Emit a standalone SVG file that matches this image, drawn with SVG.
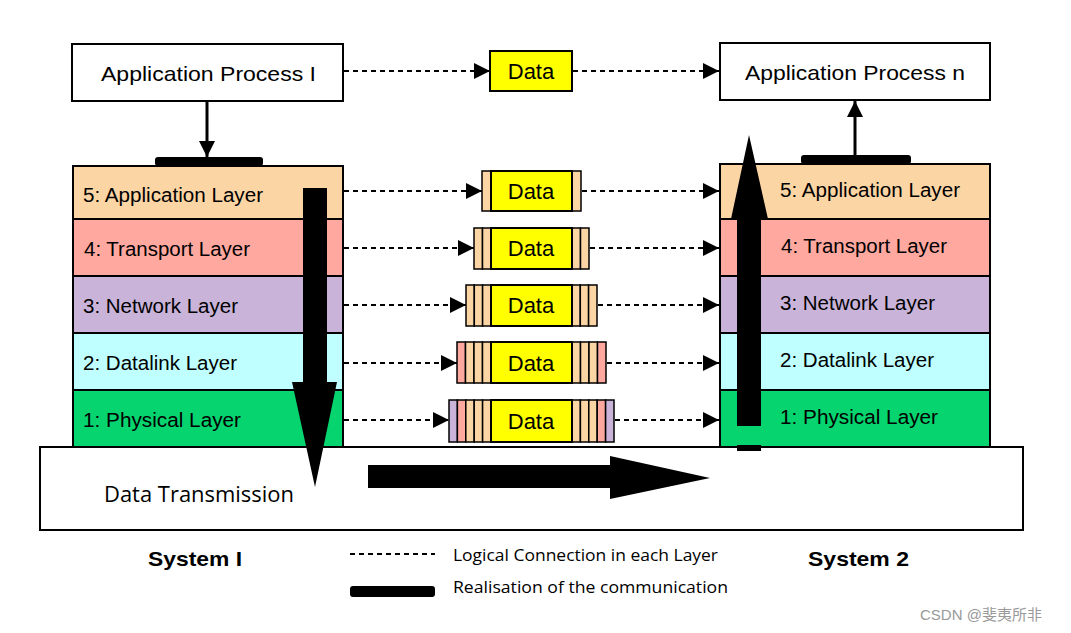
<svg xmlns="http://www.w3.org/2000/svg" width="1071" height="633" viewBox="0 0 1071 633">
<defs>
<marker id="ah2" viewBox="0 0 10 10" refX="10" refY="5" markerWidth="16" markerHeight="16" markerUnits="userSpaceOnUse" orient="auto">
<path d="M0,0 L10,5 L0,10 z" fill="#000"/>
</marker>
</defs>
<style>
.box{fill:#fff;stroke:#000;stroke-width:2}
.lay{stroke:#000;stroke-width:2}
.l5{fill:#FCD5A4}.l4{fill:#FFA8A0}.l3{fill:#C9B3D9}.l2{fill:#BFFFFF}.l1{fill:#05D46F}
.t{font-family:"Liberation Sans",Arial,sans-serif;font-size:21px;fill:#000}
.lt{font-family:"Liberation Sans",Arial,sans-serif;font-size:20px;fill:#000}
.dt{font-family:"Liberation Sans",Arial,sans-serif;font-size:22px;fill:#000;text-anchor:middle}
.cal{font-family:"Open Sans","Liberation Sans",sans-serif;fill:#000}
.dash{stroke:#000;stroke-width:1.8;stroke-dasharray:5 4;fill:none}
.yel{fill:#FFFF00;stroke:#000;stroke-width:2}
.sp{fill:#FCD5A4;stroke:#000;stroke-width:1.5}
.ss{fill:#FFA8A0;stroke:#000;stroke-width:1.5}
.sv{fill:#C9B3D9;stroke:#000;stroke-width:1.5}
.sys{font-family:"Liberation Sans",Arial,sans-serif;font-size:21px;font-weight:bold;fill:#000}
</style>

<g id="transmission">
<rect class="box" x="40" y="447" width="983" height="83"/>
<text class="cal" x="104" y="502" font-size="21" textLength="190" lengthAdjust="spacingAndGlyphs">Data Transmission</text>
</g>

<g id="app-process-1">
<rect class="box" x="72" y="44" width="271" height="57"/>
<text class="t" x="101" y="81" textLength="215" lengthAdjust="spacingAndGlyphs">Application Process I</text>
</g>
<g id="app-process-n">
<rect class="box" x="720" y="43" width="270" height="57"/>
<text class="t" x="745" y="80" textLength="220" lengthAdjust="spacingAndGlyphs">Application Process n</text>
</g>
<g id="data-top">
<rect class="yel" x="490" y="51" width="82" height="40"/>
<text class="dt" x="531" y="79">Data</text>
</g>

<g id="stack-left">
<rect class="lay l5" x="73" y="166" width="270" height="53"/>
<rect class="lay l4" x="73" y="219" width="270" height="57"/>
<rect class="lay l3" x="73" y="276" width="270" height="57"/>
<rect class="lay l2" x="73" y="333" width="270" height="57"/>
<rect class="lay l1" x="73" y="390" width="270" height="57"/>
<text class="lt" x="83" y="202" textLength="180" lengthAdjust="spacingAndGlyphs">5: Application Layer</text>
<text class="lt" x="84" y="256" textLength="166" lengthAdjust="spacingAndGlyphs">4: Transport Layer</text>
<text class="lt" x="83" y="313" textLength="155" lengthAdjust="spacingAndGlyphs">3: Network Layer</text>
<text class="lt" x="83" y="370" textLength="154" lengthAdjust="spacingAndGlyphs">2: Datalink Layer</text>
<text class="lt" x="83" y="427" textLength="158" lengthAdjust="spacingAndGlyphs">1: Physical Layer</text>
</g>

<g id="stack-right">
<rect class="lay l5" x="720" y="164" width="270" height="55"/>
<rect class="lay l4" x="720" y="219" width="270" height="57"/>
<rect class="lay l3" x="720" y="276" width="270" height="57"/>
<rect class="lay l2" x="720" y="333" width="270" height="57"/>
<rect class="lay l1" x="720" y="390" width="270" height="57"/>
<text class="lt" x="780" y="197" textLength="180" lengthAdjust="spacingAndGlyphs">5: Application Layer</text>
<text class="lt" x="781" y="253" textLength="166" lengthAdjust="spacingAndGlyphs">4: Transport Layer</text>
<text class="lt" x="780" y="310" textLength="155" lengthAdjust="spacingAndGlyphs">3: Network Layer</text>
<text class="lt" x="780" y="367" textLength="154" lengthAdjust="spacingAndGlyphs">2: Datalink Layer</text>
<text class="lt" x="780" y="424" textLength="158" lengthAdjust="spacingAndGlyphs">1: Physical Layer</text>
</g>

<g id="pdu-5">
<rect class="sp" x="482" y="171" width="9" height="40"/>
<rect class="sp" x="572" y="171" width="9" height="40"/>
<rect class="yel" x="491" y="171" width="81" height="40"/>
<text class="dt" x="531" y="199">Data</text>
</g>
<g id="pdu-4">
<rect class="sp" x="474" y="228" width="8.5" height="41"/>
<rect class="sp" x="482.5" y="228" width="8.5" height="41"/>
<rect class="sp" x="572" y="228" width="8.5" height="41"/>
<rect class="sp" x="580.5" y="228" width="8.5" height="41"/>
<rect class="yel" x="491" y="228" width="81" height="41"/>
<text class="dt" x="531" y="256">Data</text>
</g>
<g id="pdu-3">
<rect class="sp" x="466" y="285" width="8.3" height="41"/>
<rect class="sp" x="474.3" y="285" width="8.3" height="41"/>
<rect class="sp" x="482.6" y="285" width="8.4" height="41"/>
<rect class="sp" x="572" y="285" width="8.3" height="41"/>
<rect class="sp" x="580.3" y="285" width="8.3" height="41"/>
<rect class="sp" x="588.6" y="285" width="8.4" height="41"/>
<rect class="yel" x="491" y="285" width="81" height="41"/>
<text class="dt" x="531" y="313">Data</text>
</g>
<g id="pdu-2">
<rect class="ss" x="457" y="342" width="8.5" height="41"/>
<rect class="sp" x="465.5" y="342" width="8.5" height="41"/>
<rect class="sp" x="474" y="342" width="8.5" height="41"/>
<rect class="sp" x="482.5" y="342" width="8.5" height="41"/>
<rect class="sp" x="572" y="342" width="8.5" height="41"/>
<rect class="sp" x="580.5" y="342" width="8.5" height="41"/>
<rect class="sp" x="589" y="342" width="8.5" height="41"/>
<rect class="ss" x="597.5" y="342" width="8.5" height="41"/>
<rect class="yel" x="491" y="342" width="81" height="41"/>
<text class="dt" x="531" y="371">Data</text>
</g>
<g id="pdu-1">
<rect class="sv" x="449" y="400" width="8.4" height="42"/>
<rect class="ss" x="457.4" y="400" width="8.4" height="42"/>
<rect class="sp" x="465.8" y="400" width="8.4" height="42"/>
<rect class="sp" x="474.2" y="400" width="8.4" height="42"/>
<rect class="sp" x="482.6" y="400" width="8.4" height="42"/>
<rect class="sp" x="572" y="400" width="8.4" height="42"/>
<rect class="sp" x="580.4" y="400" width="8.4" height="42"/>
<rect class="sp" x="588.8" y="400" width="8.4" height="42"/>
<rect class="ss" x="597.2" y="400" width="8.4" height="42"/>
<rect class="sv" x="605.6" y="400" width="8.4" height="42"/>
<rect class="yel" x="491" y="400" width="81" height="42"/>
<text class="dt" x="531" y="429">Data</text>
</g>

<g id="connectors">
<line class="dash" x1="344" y1="71" x2="490" y2="71" marker-end="url(#ah2)"/>
<line class="dash" x1="573" y1="71" x2="719" y2="71" marker-end="url(#ah2)"/>
<line class="dash" x1="344" y1="191" x2="482" y2="191" marker-end="url(#ah2)"/>
<line class="dash" x1="582" y1="191" x2="719" y2="191" marker-end="url(#ah2)"/>
<line class="dash" x1="344" y1="248" x2="474" y2="248" marker-end="url(#ah2)"/>
<line class="dash" x1="590" y1="248" x2="719" y2="248" marker-end="url(#ah2)"/>
<line class="dash" x1="344" y1="305" x2="466" y2="305" marker-end="url(#ah2)"/>
<line class="dash" x1="598" y1="305" x2="719" y2="305" marker-end="url(#ah2)"/>
<line class="dash" x1="344" y1="363" x2="457" y2="363" marker-end="url(#ah2)"/>
<line class="dash" x1="607" y1="363" x2="719" y2="363" marker-end="url(#ah2)"/>
<line class="dash" x1="344" y1="420" x2="449" y2="420" marker-end="url(#ah2)"/>
<line class="dash" x1="615" y1="420" x2="719" y2="420" marker-end="url(#ah2)"/>

<line x1="207" y1="101" x2="207" y2="157" stroke="#000" stroke-width="3" marker-end="url(#ah2)"/>
<rect x="155" y="157" width="108" height="9" rx="3" fill="#000"/>
<line x1="855" y1="155" x2="855" y2="101" stroke="#000" stroke-width="3" marker-end="url(#ah2)"/>
<rect x="801" y="155" width="110" height="9" rx="3" fill="#000"/>

<path d="M303,188 H327 V382 H337 L315,487 L292,382 H303 Z" fill="#000"/>
<path d="M737,426 V219 H731 L749,135 L768,219 H761 V426 Z" fill="#000"/>
<rect x="737" y="445" width="24" height="6" fill="#000"/>
<path d="M368,465 H610 V456 L710,478 L610,499 V488 H368 Z" fill="#000"/>
</g>

<g id="legend">
<line class="dash" x1="350" y1="554" x2="435" y2="554" stroke-dasharray="4 3" stroke-width="1.5"/>
<text class="cal" x="453" y="561" font-size="17" textLength="265" lengthAdjust="spacingAndGlyphs">Logical Connection in each Layer</text>
<rect x="350" y="586" width="85" height="11" rx="3" fill="#000"/>
<text class="cal" x="453" y="593" font-size="17" textLength="275" lengthAdjust="spacingAndGlyphs">Realisation of the communication</text>
</g>

<g id="labels">
<text class="sys" x="148" y="566" textLength="94" lengthAdjust="spacingAndGlyphs">System I</text>
<text class="sys" x="808" y="566" textLength="101" lengthAdjust="spacingAndGlyphs">System 2</text>
<text x="920" y="620" font-family="'Liberation Sans','Noto Sans CJK SC',sans-serif" font-size="15" fill="#999">CSDN @斐夷所非</text>
</g>
</svg>
